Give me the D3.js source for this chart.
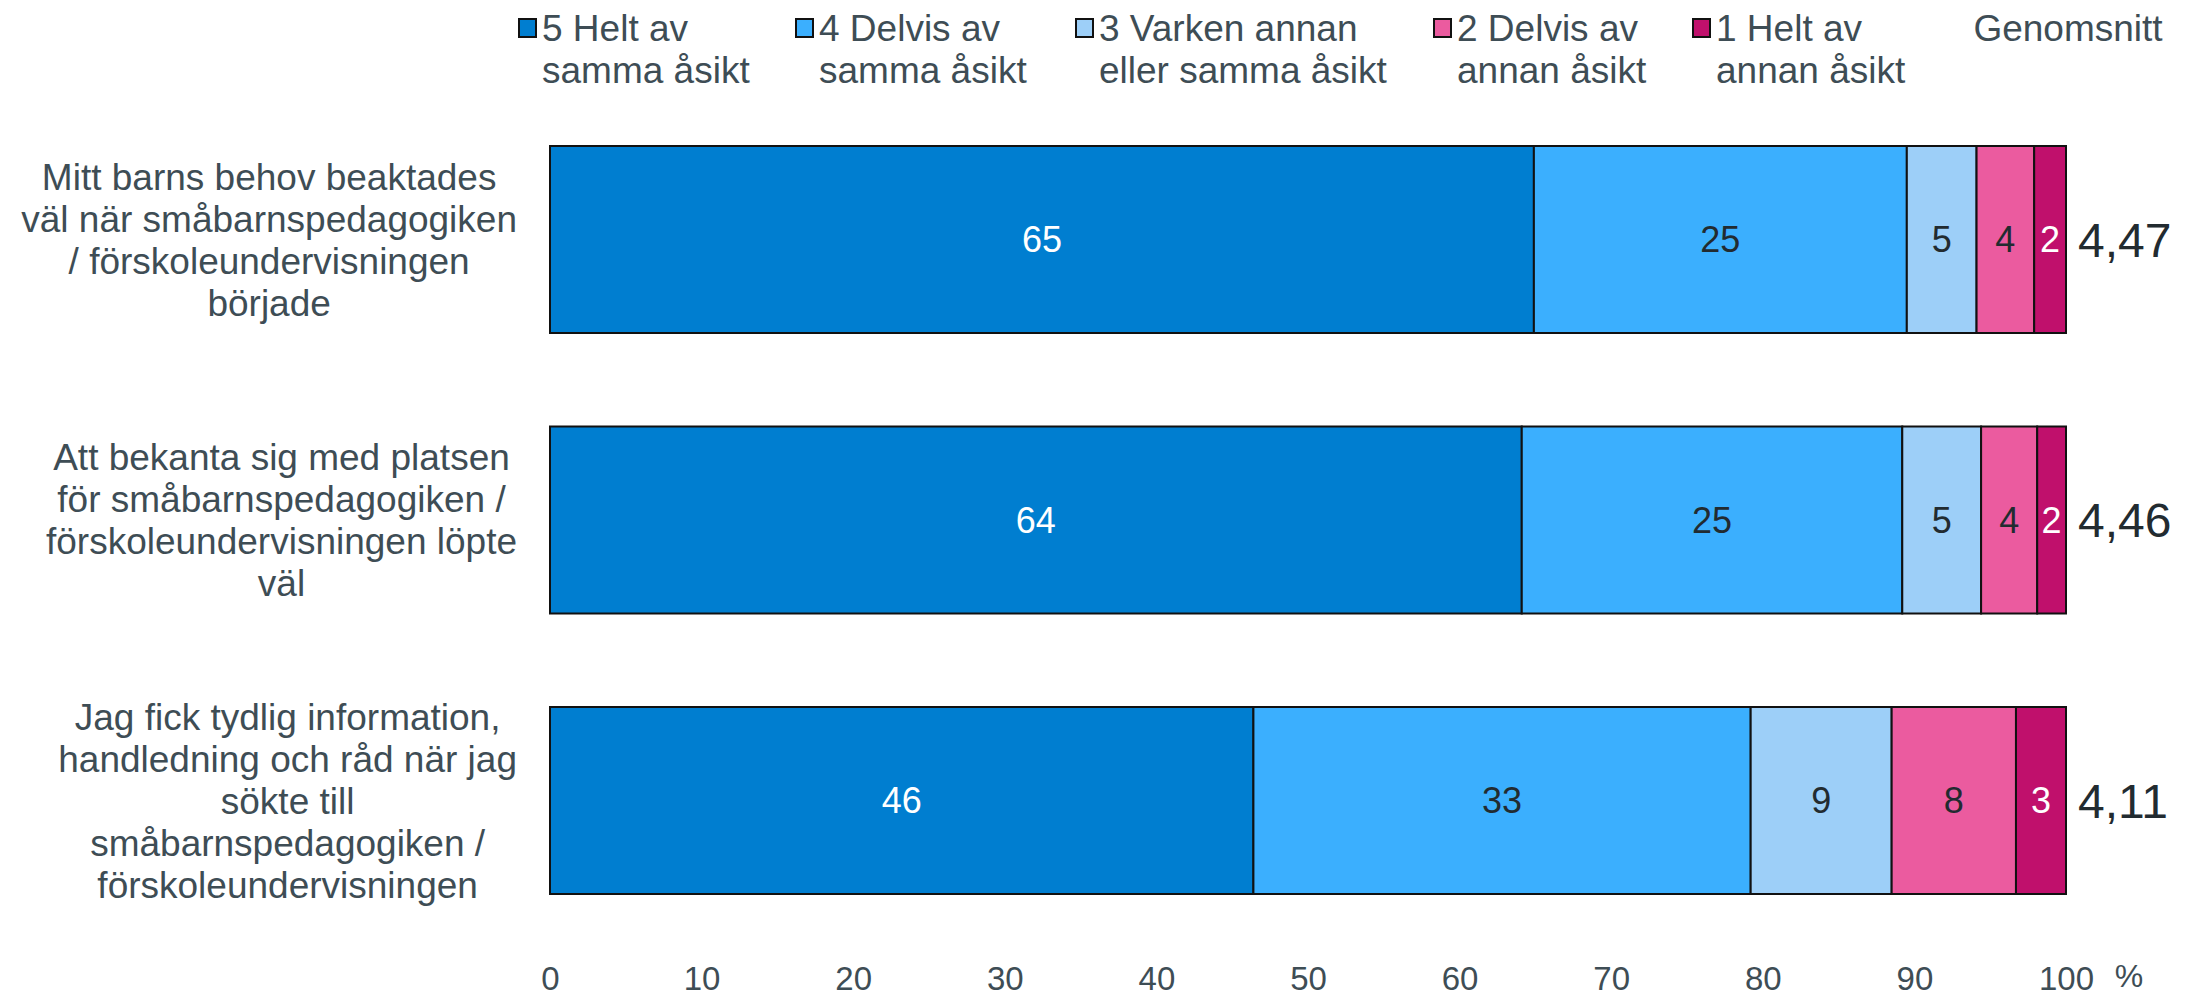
<!DOCTYPE html>
<html>
<head>
<meta charset="utf-8">
<script src="https://cdn.jsdelivr.net/npm/d3@7"></script>
<style>
  html, body { margin: 0; padding: 0; background: #fff; }
  svg { display: block; font-family: "Liberation Sans", Arial, sans-serif; }
</style>
</head>
<body>
<svg id="chart" width="2191" height="1002"></svg>
<script>
// ---- data ----
const categories = [
  "Mitt barns behov beaktades\nväl när småbarnspedagogiken\n/ förskoleundervisningen\nbörjade",
  "Att bekanta sig med platsen\nför småbarnspedagogiken /\nförskoleundervisningen löpte\nväl",
  "Jag fick tydlig information,\nhandledning och råd när jag\nsökte till\nsmåbarnspedagogiken /\nförskoleundervisningen"
];
const seriesKeys = ["s5", "s4", "s3", "s2", "s1"];
const seriesNames = [
  "5 Helt av\nsamma åsikt",
  "4 Delvis av\nsamma åsikt",
  "3 Varken annan\neller samma åsikt",
  "2 Delvis av\nannan åsikt",
  "1 Helt av\nannan åsikt"
];
const seriesColors = ["#007ED0", "#3BAFFE", "#9DCFF8", "#EB5B9F", "#C0106C"];
const labelColors = ["#ffffff", "#222b30", "#222b30", "#222b30", "#ffffff"];
const helt5   = [64.9, 64.1, 46.4];
const delvis4 = [24.6, 25.1, 32.8];
const varken3 = [4.6, 5.2, 9.3];
const delvis2 = [3.8, 3.7, 8.2];
const helt1   = [2.1, 1.9, 3.3];
const averages = [4.47, 4.46, 4.11];
const averageTitle = "Genomsnitt";
const xTicks = [0, 10, 20, 30, 40, 50, 60, 70, 80, 90, 100];
const unitLabel = "%";

// ---- build table ----
const seriesValues = [helt5, delvis4, varken3, delvis2, helt1];
const table = categories.map((c, i) => {
  const row = { cat: c, idx: i };
  seriesKeys.forEach((k, j) => row[k] = seriesValues[j][i]);
  return row;
});

const svg = d3.select("#chart");
const textColor = "#3E4D55";

const x = d3.scaleLinear().domain([0, 100]).range([550, 2066]);
const y = d3.scaleBand().domain(d3.range(categories.length))
  .range([99.25, 940.75]).paddingInner(1/3).paddingOuter(1/6);

const stack = d3.stack().keys(seriesKeys);
const stacked = stack(table);

// bars
const g = svg.append("g");
stacked.forEach((layer, si) => {
  g.selectAll(null).data(layer).enter().append("rect")
    .attr("x", d => x(d[0]))
    .attr("y", (d, i) => y(i))
    .attr("width", d => x(d[1]) - x(d[0]))
    .attr("height", y.bandwidth())
    .attr("fill", seriesColors[si])
    .attr("stroke", "#111")
    .attr("stroke-width", 2);
});
// value labels
stacked.forEach((layer, si) => {
  g.selectAll(null).data(layer).enter().append("text")
    .attr("x", d => (x(d[0]) + x(d[1])) / 2)
    .attr("y", (d, i) => y(i) + y.bandwidth() / 2)
    .attr("dy", "0.36em")
    .attr("text-anchor", "middle")
    .attr("font-size", 36)
    .attr("fill", labelColors[si])
    .text(d => Math.round(d[1] - d[0]));
});

// averages
const fmt = v => d3.format(".2f")(v).replace(".", ",");
svg.selectAll(null).data(averages).enter().append("text")
  .attr("x", x(100) + 12)
  .attr("y", (d, i) => y(i) + y.bandwidth() / 2)
  .attr("dy", "0.36em")
  .attr("font-size", 48)
  .attr("fill", "#222b30")
  .text(d => fmt(d));

// category labels (centered blocks, right edge ~517)
const catG = svg.append("g");
categories.forEach((c, i) => {
  const lines = c.split("\n");
  const cy = y(i) + y.bandwidth() / 2;
  const t = catG.append("text")
    .attr("font-size", 37)
    .attr("fill", textColor)
    .attr("text-anchor", "middle");
  lines.forEach((ln, li) => {
    t.append("tspan")
      .attr("x", 0)
      .attr("y", cy + (li - (lines.length - 1) / 2) * 42)
      .attr("dy", "0.36em")
      .text(ln);
  });
  const maxW = d3.max(t.selectAll("tspan").nodes(), n => n.getComputedTextLength());
  const cx = 517 - maxW / 2;
  t.selectAll("tspan").attr("x", cx);
});

// x axis (labels only)
const xAxis = d3.axisBottom(x).tickValues(xTicks).tickSize(0).tickPadding(0).tickFormat(d3.format("d"));
const axG = svg.append("g").attr("transform", "translate(0,967)").call(xAxis);
axG.select(".domain").remove();
axG.selectAll("text").attr("font-size", 33).attr("fill", textColor)
  .attr("font-family", "\"Liberation Sans\", Arial, sans-serif").attr("dy", "0.71em");
svg.append("text").attr("x", 2129).attr("y", 975).attr("dy", "0.36em")
  .attr("text-anchor", "middle").attr("font-size", 32).attr("fill", textColor).text(unitLabel);

// legend
const legendX = [519, 796, 1076, 1434, 1693];
const leg = svg.append("g");
seriesNames.forEach((name, i) => {
  leg.append("rect")
    .attr("x", legendX[i]).attr("y", 19).attr("width", 17).attr("height", 18)
    .attr("fill", seriesColors[i]).attr("stroke", "#111").attr("stroke-width", 2);
  const t = leg.append("text").attr("font-size", 37).attr("fill", textColor);
  name.split("\n").forEach((ln, li) => {
    t.append("tspan").attr("x", legendX[i] + 23).attr("y", 41 + li * 42).text(ln);
  });
});
leg.append("text").attr("x", 2068).attr("y", 41).attr("text-anchor", "middle")
  .attr("font-size", 37).attr("fill", textColor).text(averageTitle);
</script>
</body>
</html>
